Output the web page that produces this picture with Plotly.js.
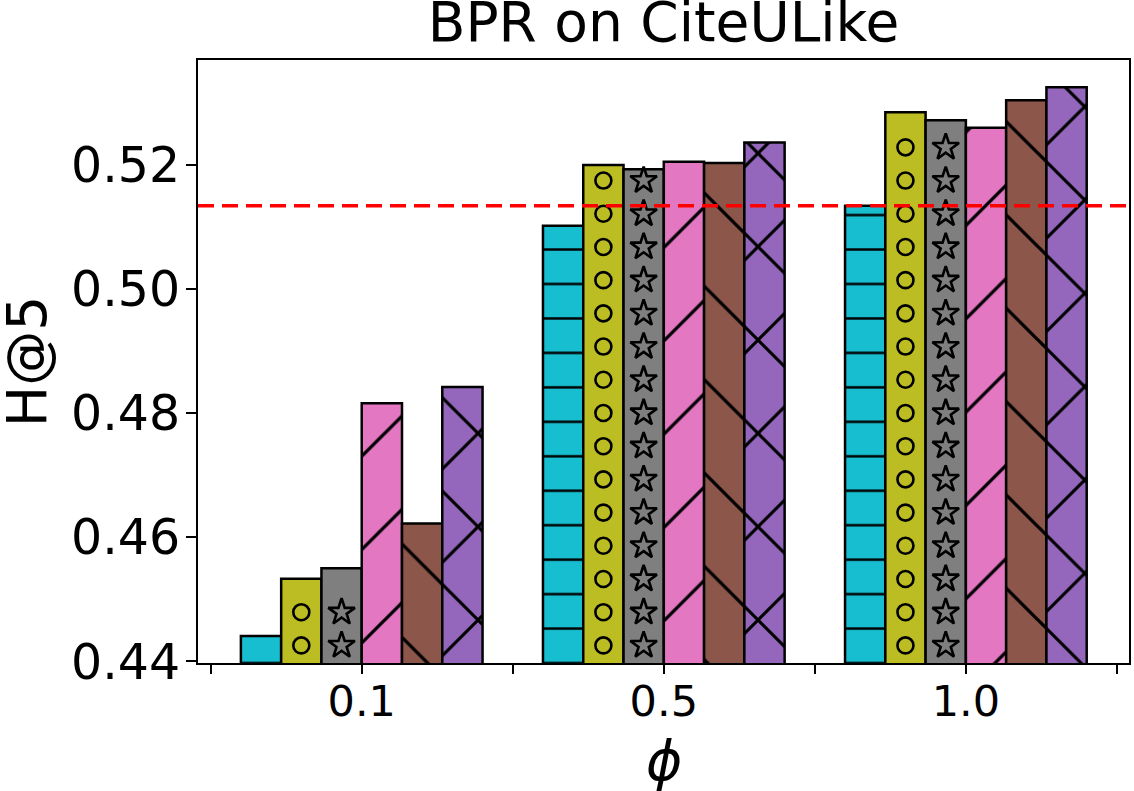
<!DOCTYPE html>
<html>
<head>
<meta charset="utf-8">
<script src="https://cdn.plot.ly/plotly-3.0.1.min.js"></script>
<style>
  html, body { margin: 0; padding: 0; background: #fff; }
  #graph { width: 1134px; height: 791px; }
</style>
</head>
<body>
<div id="graph"></div>
<script>
// phi values on the x axis
const phiLabels = ['0.1', '0.5', '1.0'];

// H@5 for each of the six bars per group (left to right)
const hitCyan   = [0.4441, 0.5102, 0.5134];
const hitOlive  = [0.4533, 0.5200, 0.5285];
const hitGray   = [0.4550, 0.5193, 0.5272];
const hitPink   = [0.4816, 0.5205, 0.5260];
const hitBrown  = [0.4622, 0.5203, 0.5304];
const hitPurple = [0.4842, 0.5236, 0.5325];

// dashed reference level
const baseline = 0.5134;

const yTicks = [0.44, 0.46, 0.48, 0.50, 0.52];
const yRange = [0.43974, 0.5369];

const series = [
  {y: hitCyan,   color: '#17becf', shape: '-',  size: 34.46, solidity: 0.072},
  {y: hitOlive,  color: '#bcbd22', shape: '',   size: 8,     solidity: 0.3},
  {y: hitGray,   color: '#7f7f7f', shape: '',   size: 8,     solidity: 0.3},
  {y: hitPink,   color: '#e377c2', shape: '/',  size: 66,    solidity: 0.05},
  {y: hitBrown,  color: '#8c564b', shape: '\\', size: 66,    solidity: 0.05},
  {y: hitPurple, color: '#9467bd', shape: 'x',  size: 66,    solidity: 0.09},
];

const groupX = phiLabels.map((_, i) => i);
const nBars = series.length;
const groupWidth = 0.8;
const barW = groupWidth / nBars;

const traces = series.map(s => ({
  type: 'bar',
  x: groupX,
  y: s.y,
  showlegend: false,
  hoverinfo: 'skip',
  marker: {
    color: s.color,
    line: {color: '#000', width: 2.5},
    pattern: {
      shape: s.shape,
      fillmode: 'overlay',
      fgcolor: '#000',
      fgopacity: 1,
      size: s.size,
      solidity: s.solidity
    }
  }
}));

// circle / star hatches (no such plotly pattern) drawn as open markers inside the bars
const hatchStep = 0.00535;
const pxToY = (yRange[1] - yRange[0]) / 603;
function hatchTrace(vals, j, symbol, size) {
  const xs = [], ys = [];
  const off = -groupWidth / 2 + (j + 0.5) * barW;
  const r = (size / 2 + 1) * pxToY;
  vals.forEach((v, i) => {
    for (let k = 0; ; k++) {
      const y = yRange[0] + (k + 0.53) * hatchStep;
      if (y + r > v) break;
      xs.push(i + off);
      ys.push(y);
    }
  });
  return {
    type: 'scatter', mode: 'markers', x: xs, y: ys,
    showlegend: false, hoverinfo: 'skip', cliponaxis: true,
    marker: {symbol: symbol, size: size, color: '#000',
             line: {color: '#000', width: 2.6}}
  };
}
traces.push(hatchTrace(hitOlive, 1, 'circle-open', 16));
traces.push(hatchTrace(hitGray, 2, 'star-open', 20));

const font = 'DejaVu Sans, sans-serif';

const layout = {
  width: 1134,
  height: 791,
  paper_bgcolor: '#fff',
  plot_bgcolor: '#fff',
  font: {family: font, color: '#000'},
  margin: {l: 198, r: 5, t: 60, b: 128, pad: 0},
  barmode: 'group',
  bargap: 0.2,
  bargroupgap: 0,
  title: {
    text: 'BPR on CiteULike',
    font: {size: 55, family: font, color: '#000'},
    x: 0.5, xref: 'paper',
    y: 0.972, yref: 'container', yanchor: 'middle'
  },
  xaxis: {
    range: [-0.542, 2.54],
    tickvals: [-0.5, 0, 0.5, 1, 1.5, 2, 2.5],
    ticktext: ['', phiLabels[0], '', phiLabels[1], '', phiLabels[2], ''],
    ticks: 'outside', ticklen: 9, tickwidth: 2, tickcolor: '#000',
    tickfont: {size: 43, family: font},
    ticklabelstandoff: -10,
    showline: true, linecolor: '#000', linewidth: 2, mirror: true,
    showgrid: false, zeroline: false
  },
  yaxis: {
    range: yRange,
    tickvals: yTicks,
    tickformat: '.2f',
    ticks: 'outside', ticklen: 10, tickwidth: 2, tickcolor: '#000',
    tickfont: {size: 49, family: font},
    ticklabelstandoff: -4,
    showline: true, linecolor: '#000', linewidth: 2, mirror: true,
    showgrid: false, zeroline: false
  },
  annotations: [
    {text: 'H@5', textangle: -90, showarrow: false,
     xref: 'paper', x: -0.184, xanchor: 'center',
     yref: 'paper', y: 0.5, yanchor: 'middle',
     font: {size: 55, family: font}},
    {text: '<i>ϕ</i>', showarrow: false,
     xref: 'paper', x: 0.5, xanchor: 'center',
     yref: 'paper', y: -0.163, yanchor: 'middle',
     font: {size: 55, family: font}}
  ],
  shapes: [{
    type: 'line', xref: 'paper', x0: 0, x1: 1, yref: 'y', y0: baseline, y1: baseline,
    line: {color: '#ff0000', width: 3.5, dash: '16px,8px'}
  }]
};

Plotly.newPlot('graph', traces, layout, {displayModeBar: false, staticPlot: true});
</script>
</body>
</html>
